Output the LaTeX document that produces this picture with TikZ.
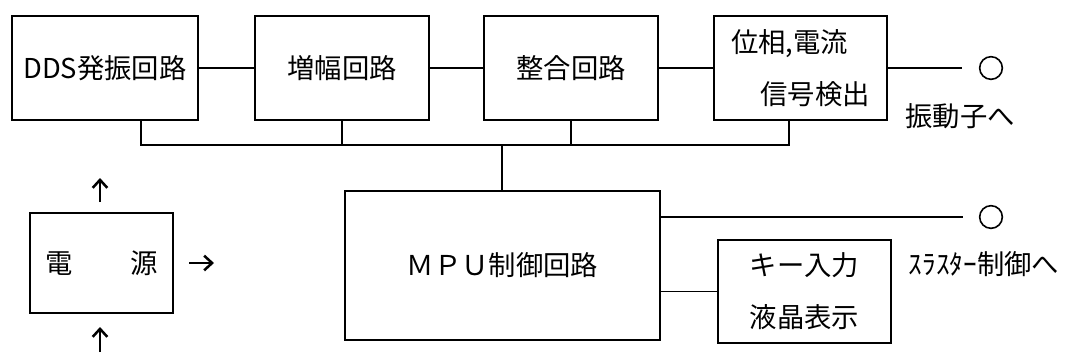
\documentclass[tikz,border=0pt]{standalone}
\usepackage{fontspec}
\setmainfont{Noto Sans CJK JP}
\usetikzlibrary{arrows.meta}
\begin{document}
\begin{tikzpicture}[x=0.75pt,y=-0.75pt,
  box/.style={draw,line width=1.3pt,inner sep=0pt,font=\fontsize{20.5}{39}\selectfont},
  lbl/.style={inner sep=0pt,font=\fontsize{20.5}{39}\selectfont},
  wire/.style={line width=1.3pt},
  term/.style={draw,circle,line width=1.2pt,minimum size=17pt,inner sep=0pt},
  parrow/.style={line width=1.9pt,-{Straight Barb[length=6pt,width=11pt]}}]
\useasboundingbox (0,0) rectangle (1072,358);
% blocks
\node[box,minimum width=139.5pt,minimum height=78pt] (dds) at (105,68) {DDS発振回路};
\node[box,minimum width=130.5pt,minimum height=78pt] (amp) at (342,68) {増幅回路};
\node[box,minimum width=130.5pt,minimum height=78pt] (match) at (571,68) {整合回路};
\node[box,minimum width=129.75pt,minimum height=78pt,align=center] (pd) at (800.5,68)
  {\makebox[104pt][l]{位相,電流}\\\makebox[104pt][r]{信号検出}};
\node[box,minimum width=236.25pt,minimum height=111.75pt] (mpu) at (502.5,265.5) {ＭＰＵ制御回路};
\node[box,minimum width=129.75pt,minimum height=77.25pt,align=center] (key) at (804.5,291.5) {キー入力\\液晶表示};
\node[box,minimum width=107.25pt,minimum height=75pt] (psu) at (101.5,263) {電\hspace{2.1em}源};
% terminals and labels
\node[term] (t1) at (991,68) {};
\node[term] (t2) at (991,217) {};
\node[lbl] (l1) at (960,116) {振動子へ};
\node[lbl] (l2) at (984,264) {ｽﾗｽﾀｰ制御へ};
% top chain
\draw[wire] (dds) -- (amp);
\draw[wire] (amp) -- (match);
\draw[wire] (match) -- (pd);
\coordinate (e1) at (962,68);
\draw[wire] (pd) -- (e1);
% bus
\coordinate (b1) at (141,145);
\coordinate (b2) at (342,145);
\coordinate (b3) at (571,145);
\coordinate (b4) at (789,145);
\coordinate (bc) at (502,145);
\draw[wire] (dds.south -| b1) -- (b1) -- (b4) -- (pd.south -| b4);
\draw[wire] (amp) -- (b2);
\draw[wire] (match) -- (b3);
\draw[wire] (bc) -- (mpu.north -| bc);
% MPU outputs
\coordinate (e2) at (963,217);
\draw[wire] (mpu.east |- e2) -- (e2);
\draw[wire] (mpu.east |- key.west) -- (key.west);
% power arrows
\coordinate (pu0) at (100,202);
\coordinate (pu1) at (100,178);
\coordinate (pi0) at (100,352);
\coordinate (pi1) at (100,327);
\coordinate (pr0) at (189,263);
\coordinate (pr1) at (214,263);
\draw[parrow] (pu0) -- (pu1);
\draw[parrow] (pi0) -- (pi1);
\draw[parrow] (pr0) -- (pr1);
\end{tikzpicture}
\end{document}
